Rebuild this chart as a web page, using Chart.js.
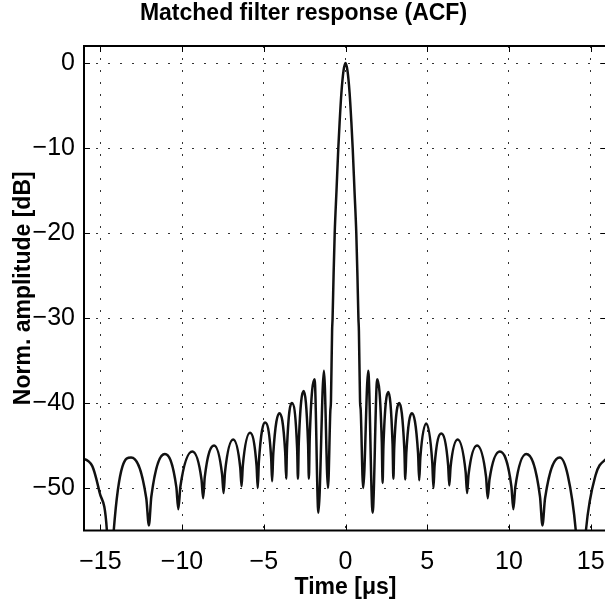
<!DOCTYPE html>
<html>
<head>
<meta charset="utf-8">
<script src="https://cdn.jsdelivr.net/npm/chart.js@4.4.0/dist/chart.umd.min.js"></script>
<style>
  html, body { margin: 0; padding: 0; overflow: hidden; background: #fff; }
  canvas { display: block; }
</style>
</head>
<body>
<canvas id="acfChart" width="608" height="601"></canvas>
<script>
// values
const chartTitle = 'Matched filter response (ACF)';
const xTitle = 'Time [\u03bcs]';
const yTitle = 'Norm. amplitude [dB]';
const xTicks = [-15, -10, -5, 0, 5, 10, 15];
const yTicks = [-50, -40, -30, -20, -10, 0];

// time in microseconds
const timeUs = [
  -16.25, -15.5, -15.05, -14.6, -14.4, -14.18, -13.12,
  -12.19, -12.03, -11.88, -11.05,
  -10.35, -10.23, -10.10, -9.37,
  -8.81, -8.71, -8.61, -8.04,
  -7.55, -7.46, -7.37, -6.87,
  -6.44, -6.36, -6.28, -5.84,
  -5.44, -5.37, -5.30, -4.92,
  -4.55, -4.49, -4.42, -4.04,
  -3.69, -3.63, -3.58, -3.28,
  -2.96, -2.91, -2.86, -2.56,
  -2.29, -2.24, -2.19, -1.89,
  -1.66, -1.32, -1.07, -0.93, -0.89, -0.82, -0.79, -0.73, -0.66, -0.55,
  -0.44, -0.36, -0.25, -0.12, 0,
  0.12, 0.25, 0.36, 0.44, 0.55, 0.66, 0.73, 0.79, 0.82, 0.89, 0.93,
  1.08, 1.39, 1.66, 1.94,
  2.22, 2.27, 2.32, 2.62,
  2.88, 2.93, 2.98, 3.29,
  3.60, 3.66, 3.72, 4.06,
  4.44, 4.51, 4.58, 4.94,
  5.31, 5.38, 5.45, 5.86,
  6.28, 6.35, 6.43, 6.86,
  7.35, 7.44, 7.53, 8.05,
  8.60, 8.70, 8.81, 9.44,
  10.15, 10.27, 10.39, 11.06,
  11.90, 12.05, 12.21, 13.11,
  13.6, 14.09, 14.4, 14.71, 15.3, 15.94, 16.25
];

// normalised amplitude in dB
const ampDb = [
  -46.4, -47.4, -50.5, -55.0, -64.0, -55.0, -46.4,
  -51.2, -54.4, -51.0, -46.0,
  -49.9, -52.5, -49.8, -45.7,
  -49.0, -51.2, -48.7, -45.0,
  -48.4, -50.6, -48.1, -44.3,
  -47.6, -49.8, -47.3, -43.5,
  -47.4, -50.0, -46.9, -42.3,
  -46.4, -49.2, -46.0, -41.2,
  -45.8, -48.9, -45.3, -40.0,
  -45.3, -48.9, -44.8, -38.6,
  -44.8, -48.9, -44.2, -37.2,
  -52.9, -36.2, -50.0, -41.0, -39.8, -31.5, -30.0, -25.0, -20.0, -15.0,
  -10.0, -7.0, -3.5, -0.9, 0,
  -0.9, -3.5, -7.0, -10.0, -15.0, -20.0, -25.0, -30.0, -31.5, -39.8, -40.8,
  -50.0, -36.2, -52.9, -37.2,
  -44.5, -49.4, -45.1, -38.7,
  -44.8, -48.9, -45.3, -40.0,
  -45.4, -49.0, -45.9, -41.2,
  -45.9, -49.1, -46.4, -42.4,
  -47.0, -50.0, -47.4, -43.6,
  -47.3, -49.7, -47.5, -44.3,
  -48.1, -50.6, -48.4, -45.0,
  -48.7, -51.2, -49.0, -45.7,
  -49.8, -52.5, -49.9, -46.0,
  -51.0, -54.4, -51.2, -46.4,
  -48.5, -55.0, -64.0, -55.0, -48.5, -46.6, -46.3
];

const FONT = "'Liberation Sans', Arial, Helvetica, sans-serif";
const fmt = v => (v < 0 ? '\u2212' + (-v) : String(v));

// matlab style box with inward ticks
const framePlugin = {
  id: 'frame',
  afterDatasetsDraw(chart) {
    const { ctx, chartArea: a, scales: { x, y } } = chart;
    ctx.save();
    ctx.strokeStyle = '#000';
    ctx.lineWidth = 1;
    ctx.beginPath();
    xTicks.forEach(v => {
      const px = Math.round(x.getPixelForValue(v)) + 0.5;
      ctx.moveTo(px, a.bottom); ctx.lineTo(px, a.bottom - 6);
      ctx.moveTo(px, a.top); ctx.lineTo(px, a.top + 6);
    });
    yTicks.forEach(v => {
      const py = Math.round(y.getPixelForValue(v)) + 0.5;
      ctx.moveTo(a.left, py); ctx.lineTo(a.left + 6, py);
      ctx.moveTo(a.right, py); ctx.lineTo(a.right - 6, py);
    });
    ctx.stroke();
    ctx.lineWidth = 2;
    ctx.strokeRect(a.left, a.top, a.right - a.left, a.bottom - a.top);
    ctx.restore();
  }
};

const ctx = document.getElementById('acfChart').getContext('2d');
new Chart(ctx, {
  type: 'line',
  data: {
    datasets: [{
      data: timeUs.map((t, i) => ({ x: t, y: ampDb[i] })),
      borderColor: '#111',
      borderWidth: 2.5,
      pointRadius: 0,
      cubicInterpolationMode: 'monotone',
      fill: false,
      clip: 0
    }]
  },
  options: {
    responsive: false,
    animation: false,
    devicePixelRatio: 1,
    layout: { padding: { left: 0, right: 1, top: 0, bottom: 0 } },
    plugins: {
      legend: { display: false },
      tooltip: { enabled: false },
      title: {
        display: true,
        text: chartTitle,
        color: '#000',
        font: { family: FONT, size: 23, weight: 'bold' },
        padding: { top: 0, bottom: 18.4 }
      }
    },
    scales: {
      x: {
        type: 'linear',
        min: -16,
        max: 16,
        afterBuildTicks: s => { s.ticks = xTicks.map(v => ({ value: v })); },
        afterFit: s => {
          s.height = 70.5;
          s.paddingLeft = 0; s.paddingRight = 0;
        },
        grid: { color: '#333', lineWidth: 1, drawTicks: false },
        border: { display: false, dash: [2, 10] },
        ticks: {
          padding: 17, color: '#000', autoSkip: false, maxRotation: 0,
          font: { family: FONT, size: 25 },
          callback: fmt
        },
        title: {
          display: true, text: xTitle, color: '#000',
          font: { family: FONT, size: 23, weight: 'bold' },
          padding: { top: 0, bottom: 0 }
        }
      },
      y: {
        type: 'linear',
        min: -55,
        max: 2,
        afterBuildTicks: s => { s.ticks = yTicks.map(v => ({ value: v })); },
        afterFit: s => {
          s.width = 84;
          s.paddingTop = 0; s.paddingBottom = 0;
        },
        grid: { color: '#333', lineWidth: 1, drawTicks: false },
        border: { display: false, dash: [2, 10] },
        ticks: {
          padding: 9, color: '#000',
          font: { family: FONT, size: 25 },
          callback: fmt
        },
        title: {
          display: true, text: yTitle, color: '#000',
          font: { family: FONT, size: 23, weight: 'bold' },
          padding: { top: 10, bottom: 0 }
        }
      }
    }
  },
  plugins: [framePlugin]
});
</script>
</body>
</html>
